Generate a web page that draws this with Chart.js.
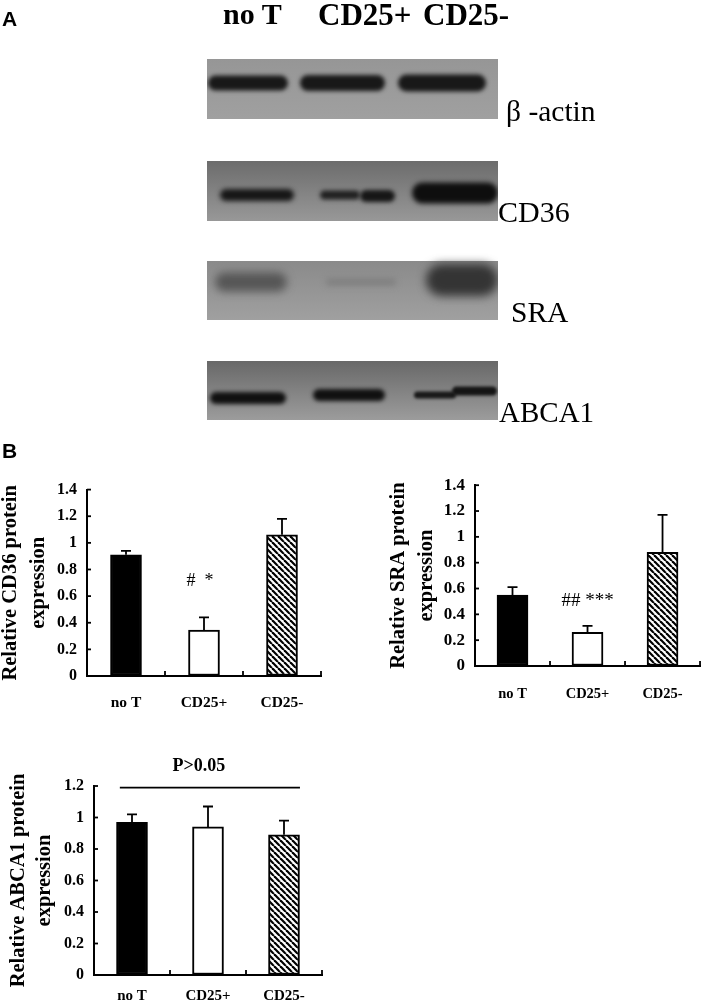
<!DOCTYPE html>
<html>
<head>
<meta charset="utf-8">
<script src="https://cdn.jsdelivr.net/npm/chart.js@4"></script>
<style>
html,body{margin:0;padding:0;background:#fff;}
#page{position:relative;width:703px;height:1002px;overflow:hidden;}
canvas{position:absolute;}
.lbl{position:absolute;white-space:pre;font-family:"Liberation Serif",serif;color:#000;line-height:1;}
.b{font-weight:bold;}
.panel{font-family:"Liberation Sans",Arial,sans-serif;font-weight:bold;font-size:21px;}
</style>
</head>
<body>
<div id="page">
<canvas id="blots" width="703" height="440" style="left:0;top:0"></canvas>
<div class="lbl panel" style="left:2px;top:8px">A</div>
<div class="lbl panel" style="left:2px;top:440px">B</div>
<div class="lbl b" style="left:223px;top:-1px;font-size:30px">no T</div>
<div class="lbl b" style="left:318px;top:-1px;font-size:31px">CD25+</div>
<div class="lbl b" style="left:423px;top:-1px;font-size:31px">CD25-</div>
<div class="lbl" style="left:506px;top:97px;font-size:29.5px">β -actin</div>
<div class="lbl" style="left:498px;top:197px;font-size:30px">CD36</div>
<div class="lbl" style="left:511px;top:298px;font-size:29.5px">SRA</div>
<div class="lbl" style="left:499px;top:398px;font-size:29px">ABCA1</div>
<canvas id="cd36Chart" width="345" height="245" style="left:-4px;top:470px"></canvas>
<canvas id="sraChart" width="319" height="240" style="left:384px;top:465px"></canvas>
<canvas id="abcaChart" width="340" height="252" style="left:4px;top:750px"></canvas>
</div>
<script>
const categories = ["no T", "CD25+", "CD25-"]

const cd36Values = [0.91, 0.345, 1.06]
const cd36ErrTop = [0.94, 0.44, 1.18]
const cd36Ticks = [0, 0.2, 0.4, 0.6, 0.8, 1, 1.2, 1.4]

const sraValues = [0.55, 0.26, 0.88]
const sraErrTop = [0.61, 0.31, 1.17]
const sraTicks = [0, 0.2, 0.4, 0.6, 0.8, 1, 1.2, 1.4]

const abcaValues = [0.97, 0.94, 0.89]
const abcaErrTop = [1.02, 1.07, 0.98]
const abcaTicks = [0, 0.2, 0.4, 0.6, 0.8, 1, 1.2]

const SERIF = '"Liberation Serif", serif'

// hatch for the CD25- bars
function hatchPattern(){
  let tile = document.createElement("canvas")
  tile.width = 6
  tile.height = 6
  let t = tile.getContext("2d")
  t.fillStyle = "#fff"
  t.fillRect(0,0,6,6)
  t.strokeStyle = "#000"
  t.lineWidth = 2.2
  for(let i=-6;i<=6;i+=6){
    t.beginPath()
    t.moveTo(i,0)
    t.lineTo(i+6,6)
    t.stroke()
  }
  return t.createPattern(tile,"repeat")
}

// error bars, inner ticks and the small notes, all placed through the scales
const extras = {
  id:"extras",
  afterDatasetsDraw(chart){
    const ctx = chart.ctx
    const xs = chart.scales.x
    const ys = chart.scales.y
    const o = chart.config.options.extras
    ctx.save()
    ctx.strokeStyle = "#000"
    ctx.fillStyle = "#000"
    ctx.lineWidth = 1.8

    o.errTop.forEach((top,i) => {
      let x = xs.getPixelForValue(i)
      let y0 = ys.getPixelForValue(chart.data.datasets[0].data[i])
      let y1 = ys.getPixelForValue(top)
      ctx.beginPath()
      ctx.moveTo(x,y0)
      ctx.lineTo(x,y1)
      ctx.moveTo(x-5,y1)
      ctx.lineTo(x+5,y1)
      ctx.stroke()
    })

    ys.ticks.forEach(t => {
      let y = ys.getPixelForValue(t.value)
      ctx.beginPath()
      ctx.moveTo(xs.left,y)
      ctx.lineTo(xs.left+4,y)
      ctx.stroke()
    })
    for(let i=1;i<=categories.length;i++){
      let x = xs.getPixelForValue(i-0.5)
      ctx.beginPath()
      ctx.moveTo(x,ys.bottom)
      ctx.lineTo(x,ys.bottom-5)
      ctx.stroke()
    }

    ;(o.notes || []).forEach(n => {
      ctx.font = n.font
      ctx.textAlign = "center"
      ctx.textBaseline = "middle"
      ctx.fillText(n.text,xs.getPixelForValue(n.cat),ys.getPixelForValue(n.y))
    })
    if(o.line){
      ctx.beginPath()
      ctx.moveTo(xs.getPixelForValue(o.line.from),ys.getPixelForValue(o.line.y))
      ctx.lineTo(xs.getPixelForValue(o.line.to),ys.getPixelForValue(o.line.y))
      ctx.stroke()
    }
    ctx.restore()
  }
}

function makeChart(id,cfg){
  new Chart(document.getElementById(id),{
    type:"bar",
    data:{
      labels:categories,
      datasets:[{
        data:cfg.values,
        backgroundColor:["#000","#fff",hatchPattern()],
        borderColor:"#000",
        borderWidth:2,
        borderSkipped:false,
        barThickness:31
      }]
    },
    plugins:[extras],
    options:{
      responsive:false,
      animation:false,
      layout:{padding:cfg.padding},
      extras:{errTop:cfg.errTop,notes:cfg.notes,line:cfg.line},
      plugins:{legend:{display:false},tooltip:{enabled:false}},
      scales:{
        x:{
          afterFit(s){ s.height = cfg.xHeight },
          grid:{drawOnChartArea:false,drawTicks:false},
          border:{color:"#000",width:2},
          ticks:{
            color:"#000",
            padding:cfg.xPad,
            maxRotation:0,
            font:{family:SERIF,weight:"bold",size:cfg.xFont}
          }
        },
        y:{
          min:0,
          max:cfg.max,
          afterFit(s){ s.width = cfg.yWidth },
          afterBuildTicks(s){ s.ticks = cfg.ticks.map(v => ({value:v})) },
          grid:{drawOnChartArea:false,drawTicks:false},
          border:{color:"#000",width:2},
          title:{
            display:true,
            text:cfg.title,
            color:"#000",
            padding:{top:cfg.titlePad,bottom:0},
            font:{family:SERIF,weight:"bold",size:20.5,lineHeight:cfg.titleLine}
          },
          ticks:{
            color:"#000",
            padding:10,
            callback:v => String(v),
            font:{family:SERIF,weight:"bold",size:cfg.yFont}
          }
        }
      }
    }
  })
}

makeChart("cd36Chart",{
  values:cd36Values, errTop:cd36ErrTop, ticks:cd36Ticks, max:1.4,
  title:["Relative CD36 protein","expression"], titleLine:"28px", titlePad:1,
  yWidth:91, xHeight:39, xPad:18, xFont:15.5, yFont:16,
  padding:{top:16,right:20,left:0,bottom:0},
  notes:[{text:"#  *",cat:0.95,y:0.713,font:"18px "+SERIF}]
})

makeChart("sraChart",{
  values:sraValues, errTop:sraErrTop, ticks:sraTicks, max:1.4,
  title:["Relative SRA protein","expression"], titleLine:"28px", titlePad:1,
  yWidth:91, xHeight:39, xPad:20, xFont:14.5, yFont:17,
  padding:{top:17,right:2,left:0,bottom:0},
  notes:[{text:"## ***",cat:1,y:0.507,font:"19px "+SERIF}]
})

makeChart("abcaChart",{
  values:abcaValues, errTop:abcaErrTop, ticks:abcaTicks, max:1.2,
  title:["Relative ABCA1 protein","expression"], titleLine:"26px", titlePad:2,
  yWidth:90, xHeight:27, xPad:12, xFont:15, yFont:16,
  padding:{top:36,right:22,left:0,bottom:0},
  notes:[{text:"P>0.05",cat:0.88,y:1.325,font:"bold 18px "+SERIF}],
  line:{from:-0.16,to:2.21,y:1.19}
})

// western blot strips above the charts (photo content, not data)
const blotCtx = document.getElementById("blots").getContext("2d")

function strip(y,h,top,bottom){
  let g = blotCtx.createLinearGradient(0,y,0,y+h)
  g.addColorStop(0,top)
  g.addColorStop(1,bottom)
  blotCtx.fillStyle = g
  blotCtx.fillRect(207,y,291,h)
}

function band(x0,x1,yc,h,color,blur){
  blotCtx.save()
  blotCtx.beginPath()
  blotCtx.rect(207,yc-35,291,65)
  blotCtx.clip()
  blotCtx.filter = "blur("+blur+"px)"
  blotCtx.fillStyle = color
  blotCtx.beginPath()
  blotCtx.roundRect(x0,yc-h/2,x1-x0,h,h/2)
  blotCtx.fill()
  blotCtx.restore()
}

strip(59,60,"#969696","#a0a0a0")
band(208,288,83,15,"#181818",2.2)
band(300,385,83,16,"#181818",2.2)
band(398,486,83,17,"#181818",2.2)

strip(161,60,"#6c6c6c","#989898")
band(220,294,195,12,"#161616",2.5)
band(320,360,195,9,"#202020",2.2)
band(360,395,196,12,"#161616",2.2)
band(412,498,193,21,"#0e0e0e",2.6)

strip(261,59,"#8a8a8a","#a0a0a0")
band(215,287,282,19,"#565656",4)
band(326,396,282,6,"#7c7c7c",3)
band(426,498,280,32,"#343434",5)

strip(361,59,"#686868","#9c9c9c")
band(210,286,398,12,"#101010",2)
band(313,385,395,12,"#101010",2)
band(414,456,395,7,"#181818",1.6)
band(452,497,391,9,"#141414",1.6)
</script>
</body>
</html>
